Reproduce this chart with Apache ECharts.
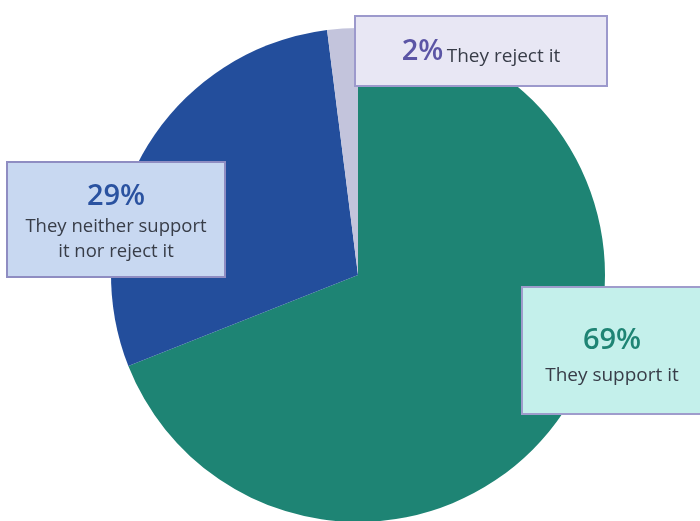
<!DOCTYPE html>
<html>
<head>
<meta charset="utf-8">
<script src="https://cdn.jsdelivr.net/npm/echarts@6/dist/echarts.min.js"></script>
<style>
  html, body { margin: 0; padding: 0; background: #ffffff; }
  #chart { width: 700px; height: 521px; }
</style>
</head>
<body>
<div id="chart"></div>
<script>
// Share of answers (percent)
const categories = ['They support it', 'They neither support it nor reject it', 'They reject it'];
const displayNames = ['They support it', 'They neither support\nit nor reject it', 'They reject it'];
const values = [69, 29, 2];

// Slice and callout styling
const sliceColors = ['#1e8474', '#234e9c', '#c3c4dc'];
const pctColors = ['#1e8474', '#2a52a0', '#5b55a5'];
const boxFills = ['#c4f0eb', '#c8d8f1', '#e8e7f4'];
const boxBorders = ['#9f9ccc', '#8f8dc2', '#9c99cc'];

// Callout boxes: centre x, centre y, width, padding, body font size
const boxLayout = [
  { cx: 612, cy: 350.5, w: 178, pad: [33, 0, 28, 0], fs: 19 },
  { cx: 116, cy: 219.5, w: 216, pad: [14, 0, 15, 0], fs: 18.5 },
  { cx: 481, cy: 51, w: 250, pad: [19, 0, 19, 0], fs: 19 }
];

const FONT = '"Open Sans", "Noto Sans", sans-serif';
const bodyColor = '#383d48';

const data = categories.map((name, i) => {
  const single = i === 2;
  return {
    name: name,
    value: values[i],
    itemStyle: { color: sliceColors[i] },
    label: {
      show: true,
      width: boxLayout[i].w,
      padding: boxLayout[i].pad,
      backgroundColor: boxFills[i],
      borderColor: boxBorders[i],
      borderWidth: 2,
      align: 'center',
      formatter: single
        ? '{pct|{c}%} {txt|' + displayNames[i] + '}'
        : '{pct|{c}%}\n' + displayNames[i].split('\n').map(t => '{txt|' + t + '}').join('\n'),
      rich: {
        pct: {
          fontFamily: FONT, fontSize: 29, fontWeight: 600, color: pctColors[i],
          lineHeight: single ? 30 : 34, align: 'center', verticalAlign: 'bottom'
        },
        txt: {
          fontFamily: FONT, fontSize: boxLayout[i].fs, color: bodyColor,
          lineHeight: single ? 28 : (i === 0 ? 30 : 25), align: 'center', verticalAlign: 'bottom'
        }
      }
    }
  };
});

const chart = echarts.init(document.getElementById('chart'), null, { renderer: 'canvas' });
chart.setOption({
  animation: false,
  backgroundColor: '#ffffff',
  series: [{
    type: 'pie',
    center: [358, 275],
    radius: [0, 247],
    startAngle: 90,
    clockwise: true,
    avoidLabelOverlap: false,
    labelLine: { show: false },
    emphasis: { disabled: true },
    data: data,
    labelLayout: function (params) {
      const b = boxLayout[params.dataIndex];
      return { x: b.cx, y: b.cy, align: 'center', verticalAlign: 'middle' };
    }
  }]
});
</script>
</body>
</html>
